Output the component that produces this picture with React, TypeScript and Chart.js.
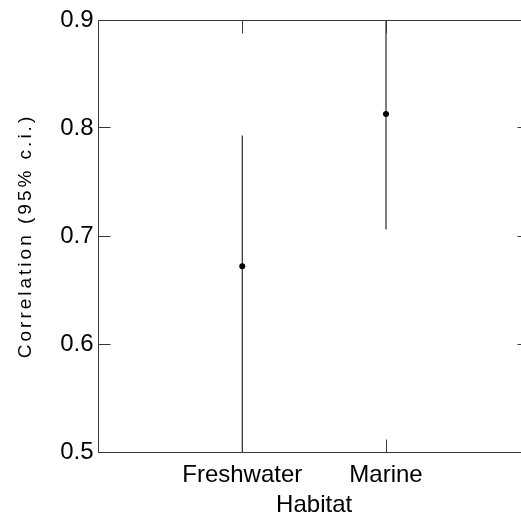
import React, { useEffect, useRef } from 'react';
import { Chart, registerables } from 'chart.js';

Chart.register(...registerables);

const categories = ['Freshwater', 'Marine'];
const categoryPositions = [1, 2];
const means = [0.672, 0.813];
const ciLow = [0.5, 0.706];
const ciHigh = [0.793, 0.9];
const yTicks = [0.5, 0.6, 0.7, 0.8, 0.9];
const xTitle = 'Habitat';
const yTitle = 'Correlation (95% c.i.)';

const FONT = "'Liberation Sans', Arial, sans-serif";
const AXIS_COLOR = '#383838';

const framePlugin = {
  id: 'frame',
  afterUpdate(chart: any) {
    const s = chart.scales.y;
    if (s && !s.__spaced) {
      const orig = s.drawTitle;
      s.drawTitle = function (...args: any[]) {
        const ctx = this.ctx;
        ctx.save();
        try {
          (ctx as any).letterSpacing = '3px';
        } catch (e) {}
        orig.apply(this, args);
        ctx.restore();
      };
      s.__spaced = true;
    }
  },
  afterDatasetsDraw(chart: any) {
    const { ctx, chartArea: a, scales } = chart;
    const L = Math.floor(a.left) + 0.5;
    const R = Math.floor(a.right) + 0.5;
    const T = Math.floor(a.top) + 0.5;
    const B = Math.floor(a.bottom) + 0.5;
    ctx.save();
    ctx.strokeStyle = AXIS_COLOR;
    ctx.lineWidth = 1;
    ctx.beginPath();
    ctx.rect(L, T, R - L, B - T);
    for (const v of yTicks) {
      const y = Math.floor(scales.y.getPixelForValue(v)) + 0.5;
      ctx.moveTo(L, y);
      ctx.lineTo(L + 12, y);
      ctx.moveTo(R, y);
      ctx.lineTo(R - 12, y);
    }
    for (const v of categoryPositions) {
      const x = Math.floor(scales.x.getPixelForValue(v)) + 0.5;
      ctx.moveTo(x, B);
      ctx.lineTo(x, B - 13);
      ctx.moveTo(x, T);
      ctx.lineTo(x, T + 13);
    }
    ctx.stroke();
    ctx.restore();
  },
};

export default function App() {
  const ref = useRef<HTMLCanvasElement | null>(null);

  useEffect(() => {
    const canvas = ref.current;
    if (!canvas) return;
    const chart = new Chart(canvas, {
      type: 'bar',
      data: {
        datasets: [
          {
            type: 'scatter' as any,
            label: 'Mean',
            data: categoryPositions.map((x, i) => ({ x, y: means[i] })),
            pointRadius: 3,
            pointBackgroundColor: '#000',
            pointBorderWidth: 0,
            order: 0,
          } as any,
          {
            type: 'bar',
            label: '95% c.i.',
            data: categoryPositions.map((x, i) => ({ x, y: [ciLow[i], ciHigh[i]] })) as any,
            backgroundColor: '#000',
            borderWidth: 0,
            barThickness: 1,
            inflateAmount: 0,
            order: 1,
          } as any,
        ],
      },
      options: {
        animation: false,
        responsive: false,
        devicePixelRatio: 1,
        layout: { padding: { top: 20, right: 10.25, left: 0, bottom: 0 } },
        plugins: {
          legend: { display: false },
          tooltip: { enabled: false },
        },
        scales: {
          x: {
            type: 'linear',
            min: 0,
            max: 3,
            offset: false,
            grid: { display: false, drawTicks: false },
            border: { display: false },
            afterBuildTicks: (scale: any) => {
              scale.ticks = categoryPositions.map((v) => ({ value: v }));
            },
            afterFit: (scale: any) => {
              scale.height = 68;
            },
            ticks: {
              autoSkip: false,
              maxRotation: 0,
              padding: 9,
              color: '#000',
              font: { family: FONT, size: 24 },
              callback: (v: any) => {
                const idx = categoryPositions.indexOf(Number(v));
                return idx >= 0 ? categories[idx] : '';
              },
            },
            title: {
              display: true,
              text: xTitle,
              color: '#000',
              font: { family: FONT, size: 24 },
              padding: { top: 0, bottom: 0 },
            },
          },
          y: {
            type: 'linear',
            min: 0.5,
            max: 0.9,
            grid: { display: false, drawTicks: false },
            border: { display: false },
            afterBuildTicks: (scale: any) => {
              scale.ticks = yTicks.map((v) => ({ value: v }));
            },
            afterFit: (scale: any) => {
              scale.width = 98.5;
            },
            ticks: {
              padding: 5,
              color: '#000',
              font: { family: FONT, size: 24 },
              callback: (v: any) => Number(v).toFixed(1),
            },
            title: {
              display: true,
              text: yTitle,
              color: '#000',
              font: { family: FONT, size: 19 },
              padding: { top: 14, bottom: 0 },
            },
          },
        },
      },
      plugins: [framePlugin],
    });
    return () => chart.destroy();
  }, []);

  return (
    <div
      style={{
        position: 'fixed',
        left: 0,
        top: 0,
        width: 521,
        height: 516,
        overflow: 'hidden',
        background: '#fff',
      }}
    >
      <canvas ref={ref} width={540} height={520} style={{ display: 'block' }} />
    </div>
  );
}
